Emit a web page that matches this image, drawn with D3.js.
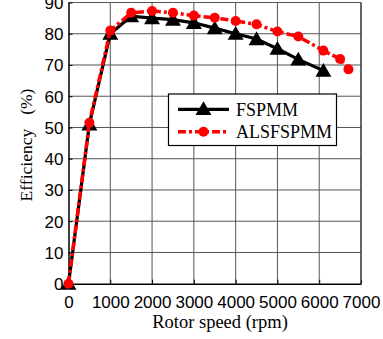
<!DOCTYPE html>
<html>
<head>
<meta charset="utf-8">
<script src="https://cdn.jsdelivr.net/npm/d3@7"></script>
<style>
  body { margin: 0; background: #fff; }
  svg { display: block; }
</style>
</head>
<body>
<svg width="383" height="339"></svg>
<script>
// data
let speedFS = [0, 500, 1000, 1500, 2000, 2500, 3000, 3500, 4000, 4500, 5000, 5500, 6100];
let effFS   = [0, 51, 80, 85.6, 85, 84.5, 83.5, 81.8, 80, 78.3, 75.2, 71.8, 68.2];
let speedALS = [0, 500, 1000, 1500, 2000, 2500, 3000, 3500, 4000, 4500, 5000, 5500, 6100, 6500, 6700];
let effALS   = [0, 51.5, 81, 86.7, 87.3, 86.7, 85.8, 85.1, 84.1, 83, 80.7, 79.1, 74.6, 71.9, 68.6];
let xTicks = [0, 1000, 2000, 3000, 4000, 5000, 6000, 7000];
let yTicks = [0, 10, 20, 30, 40, 50, 60, 70, 80, 90];
let seriesNames = ["FSPMM", "ALSFSPMM"];

let svg = d3.select("svg");
let margin = {top: 2.5, right: 22, bottom: 55.3, left: 68.5};
let W = 383, H = 339;

let x = d3.scaleLinear().domain([0, 7000]).range([margin.left, W - margin.right]);
let y = d3.scaleLinear().domain([0, 90]).range([H - margin.bottom, margin.top]);

// grid
let grid = svg.append("g");
grid.selectAll("line.gx").data(xTicks.slice(1)).enter().append("line")
  .attr("x1", d => x(d)).attr("x2", d => x(d))
  .attr("y1", y(0)).attr("y2", y(90))
  .attr("stroke", "#555").attr("stroke-width", 1);
grid.selectAll("line.gy").data(yTicks.slice(1)).enter().append("line")
  .attr("x1", x(0)).attr("x2", x(7000))
  .attr("y1", d => y(d)).attr("y2", d => y(d))
  .attr("stroke", "#555").attr("stroke-width", 1);

// axes
let xAxis = svg.append("g").attr("transform", "translate(0," + y(0) + ")")
  .call(d3.axisBottom(x).tickValues(xTicks).tickFormat(d3.format("d")).tickSizeInner(-4).tickSizeOuter(0).tickPadding(8));
let yAxis = svg.append("g").attr("transform", "translate(" + x(0) + ",0)")
  .call(d3.axisLeft(y).tickValues(yTicks).tickSizeInner(-4).tickSizeOuter(0).tickPadding(5));
[xAxis, yAxis].forEach(a => {
  a.select(".domain").attr("stroke", "#000").attr("stroke-width", 1.5);
  a.selectAll(".tick line").attr("stroke", "#000");
  a.selectAll("text").attr("font-family", "Liberation Sans, Arial, sans-serif")
    .attr("font-size", 17).attr("fill", "#000");
});
xAxis.selectAll("text").attr("dy", "0.95em");
yAxis.selectAll("text").attr("dy", "0.35em");

// right border
svg.append("line").attr("x1", x(7000)).attr("x2", x(7000)).attr("y1", y(0)).attr("y2", y(90))
  .attr("stroke", "#222").attr("stroke-width", 1);

// FSPMM line
let lineFS = d3.line().x((d, i) => x(speedFS[i])).y(d => y(d));
svg.append("path").datum(effFS).attr("d", lineFS)
  .attr("fill", "none").attr("stroke", "#000").attr("stroke-width", 3.2);
let tri = d3.symbol().type(d3.symbolTriangle).size(110);
svg.selectAll("path.tri").data(effFS).enter().append("path")
  .attr("d", tri)
  .attr("transform", (d, i) => "translate(" + x(speedFS[i]) + "," + (y(d) + 1.5) + ")")
  .attr("fill", "#000");

// ALSFSPMM line
let lineALS = d3.line().x((d, i) => x(speedALS[i])).y(d => y(d));
svg.append("path").datum(effALS).attr("d", lineALS)
  .attr("fill", "none").attr("stroke", "#ff0000").attr("stroke-width", 3.5)
  .attr("stroke-dasharray", "8,3,3,3");
svg.selectAll("circle.als").data(effALS).enter().append("circle")
  .attr("cx", (d, i) => x(speedALS[i])).attr("cy", d => y(d))
  .attr("r", 5).attr("fill", "#ff0000");

// legend
let lg = svg.append("g");
lg.append("rect").attr("x", 168.5).attr("y", 94).attr("width", 168).attr("height", 51.5)
  .attr("fill", "#fff").attr("stroke", "#000").attr("stroke-width", 1.2);
lg.append("line").attr("x1", 178).attr("x2", 229).attr("y1", 109.3).attr("y2", 109.3)
  .attr("stroke", "#000").attr("stroke-width", 3.2);
lg.append("path").attr("d", tri).attr("transform", "translate(203.5,110.5)").attr("fill", "#000");
lg.append("line").attr("x1", 178).attr("x2", 229).attr("y1", 131.7).attr("y2", 131.7)
  .attr("stroke", "#ff0000").attr("stroke-width", 3.5).attr("stroke-dasharray", "8,3,3,3");
lg.append("circle").attr("cx", 203.5).attr("cy", 131.7).attr("r", 5).attr("fill", "#ff0000");
lg.selectAll("text").data(seriesNames).enter().append("text")
  .attr("x", 236).attr("y", (d, i) => 115.5 + i * 22.4)
  .attr("font-family", "Liberation Serif, Times New Roman, serif").attr("font-size", 18)
  .text(d => d);

// axis titles
svg.append("text").attr("x", 220).attr("y", 328).attr("text-anchor", "middle")
  .attr("font-family", "Liberation Serif, Times New Roman, serif").attr("font-size", 18.5)
  .text("Rotor speed (rpm)");
let yl = svg.append("text").attr("transform", "translate(32,145) rotate(-90)")
  .attr("text-anchor", "middle")
  .attr("font-family", "Liberation Serif, Times New Roman, serif").attr("font-size", 17.5);
yl.append("tspan").text("Efficiency");
yl.append("tspan").attr("dx", 14).text("(%)");
</script>
</body>
</html>
